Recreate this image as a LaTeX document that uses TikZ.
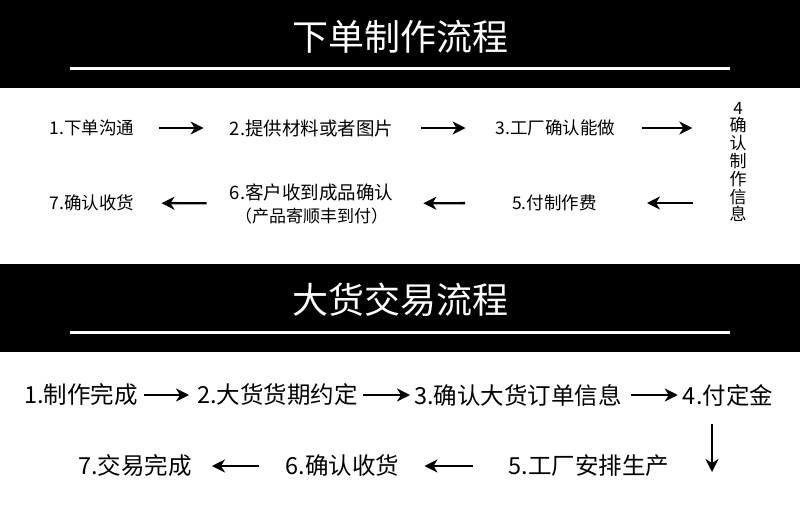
\documentclass[tikz,border=0pt]{standalone}
\usepackage{fontspec}
\setmainfont{Noto Sans CJK SC}
\usetikzlibrary{arrows.meta}

\tikzset{
    band/.style={fill=black},
    rule/.style={draw=white, line width=3pt},
    title/.style={text=white, inner sep=0pt, font=\fontsize{36}{40}\selectfont},
    small/.style={inner sep=0pt, font=\fontsize{17.5}{20}\selectfont},
    mid/.style={inner sep=0pt, align=center, font=\fontsize{18.5}{23}\selectfont},
    big/.style={inner sep=0pt, font=\fontsize{23.5}{26}\selectfont},
    arr/.style={-{Stealth[length=13pt, width=13pt, inset=4pt]}, line width=2.4pt},
}

\begin{document}
\begin{tikzpicture}[x=1pt, y=-1pt]
        \useasboundingbox (0, 0) rectangle (800, 520);

        % title bands
        \fill[band] (0, 0) rectangle (800, 88);
        \fill[band] (0, 264) rectangle (800, 352);
        \draw[rule] (70, 68) -- (730, 68);
        \draw[rule] (70, 332) -- (730, 332);
        \node[title] (t1) at (400, 37) {下单制作流程};
        \node[title] (t2) at (400, 300) {大货交易流程};

        % sample order
        \node[small] (s1) at (92, 128) {1.下单沟通};
        \node[mid] (s2) at (311.5, 128) {2.提供材料或者图片};
        \node[small] (s3) at (555.5, 128) {3.工厂确认能做};
        \node[small, align=center, font=\fontsize{17}{17.8}\selectfont] (s4) at (738, 162) {4\\确\\认\\制\\作\\信\\息};
        \node[small] (s5) at (554.5, 203) {5.付制作费};
        \node[mid] (s6) at (311.5, 203.5) {6.客户收到成品确认\\{\fontsize{17}{20}\selectfont （产品寄顺丰到付）}};
        \node[small] (s7) at (92, 203) {7.确认收货};

        \draw[arr, shorten <=25pt, shorten >=26pt] (s1) -- (s2);
        \draw[arr, shorten <=28pt, shorten >=30pt] (s2) -- (s3);
        \draw[arr, shorten <=27pt, shorten >=37pt] (s3.east) -- (s3.east -| s4.west);
        \draw[arr, shorten <=36pt, shorten >=50pt] (s4.west |- s5.east) -- (s5.east);
        \draw[arr, shorten <=47pt, shorten >=30pt] (s5) -- (s6);
        \draw[arr, shorten <=23pt, shorten >=27pt] (s6) -- (s7);

        % bulk order
        \node[big] (b1) at (81, 395) {1.制作完成};
        \node[big] (b2) at (277.5, 395) {2.大货货期约定};
        \node[big] (b3) at (518, 395) {3.确认大货订单信息};
        \node[big] (b4) at (728, 395) {4.付定金};
        \node[big] (b5) at (589, 466) {5.工厂安排生产};
        \node[big] (b6) at (342.5, 466) {6.确认收货};
        \node[big] (b7) at (135, 466) {7.交易完成};
        \coordinate (dn) at (712, 472);

        \draw[arr, shorten <=6pt, shorten >=8pt] (b1) -- (b2);
        \draw[arr, shorten <=5pt, shorten >=4pt] (b2) -- (b3);
        \draw[arr, shorten <=9pt, shorten >=5pt] (b3) -- (b4);
        \draw[arr, shorten <=18pt] (dn |- b4.south) -- (dn);
        \draw[arr, shorten <=36pt, shorten >=25pt] (b5) -- (b6);
        \draw[arr, shorten <=27pt, shorten >=20pt] (b6) -- (b7);
    \end{tikzpicture}
\end{document}
